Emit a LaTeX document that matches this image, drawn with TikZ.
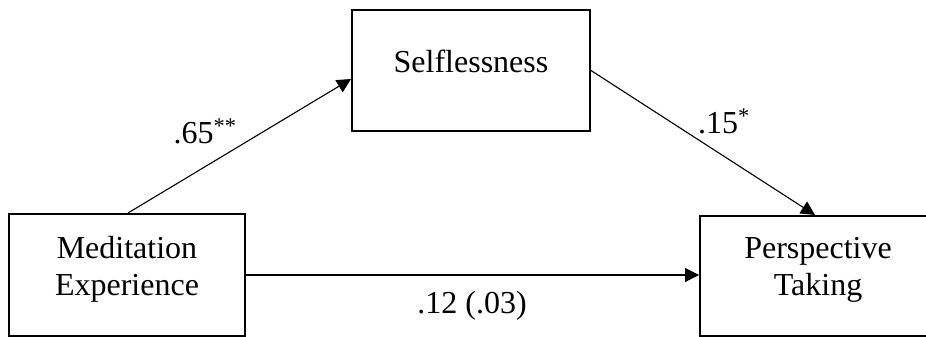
\documentclass[tikz,border=0pt]{standalone}
\usepackage{fontspec}
\setmainfont{Liberation Serif}
\usetikzlibrary{arrows.meta}
\begin{document}
\begin{tikzpicture}[x=1pt,y=-1pt,
  box/.style={draw,line width=2pt,rectangle,inner sep=0pt},
  txt/.style={font=\fontsize{32}{37}\selectfont,align=center,inner sep=0pt,anchor=base},
  lbl/.style={font=\fontsize{32}{37}\selectfont,inner sep=0pt,anchor=base},
  conn/.style={line width=1.1pt,-{Triangle[length=14pt,width=14pt]}}]
\useasboundingbox (0,0) rectangle (926,337);
\clip (0,0) rectangle (926,337);
\node[box,minimum width=236pt,minimum height=122pt] (med) at (127,275) {};
\node[box,minimum width=238pt,minimum height=121pt] (sel) at (471,70.5) {};
\node[box,minimum width=236pt,minimum height=120pt] (per) at (818,276) {};
\node[txt] (medT) at (127,295) {Meditation\\Experience};
\node[txt] (selT) at (471,72) {Selflessness};
\node[txt] (perT) at (818,295) {Perspective\\Taking};
\draw[conn] ([xshift=1pt]med.north) -- ([yshift=-8.5pt]sel.west);
\draw[conn] (sel.east) -- ([xshift=-3pt]per.north);
\draw[conn] (med.east) -- (per.west |- med.east);
\node[lbl] (a) at (205,143) {.65\textsuperscript{**}};
\node[lbl] (b) at (724,133) {.15\textsuperscript{*}};
\node[lbl] (c) at (472,313) {.12 (.03)};
\end{tikzpicture}
\end{document}
